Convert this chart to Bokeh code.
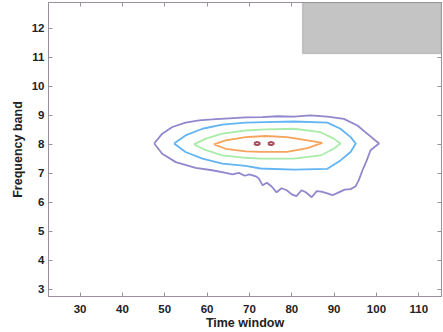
from bokeh.plotting import figure
from bokeh.models import Range1d, LinearAxis, SingleIntervalTicker, BoxAnnotation, CustomJSTickFormatter
from bokeh.embed import file_html
from bokeh.resources import INLINE

# x ticks / y ticks
x_tick_step = 10
y_tick_step = 1

# contour levels (outer -> inner), each a closed polyline in (time window, frequency band)
level1_x = [47.5, 49.4, 51.8, 54.9, 58.1, 61.2, 65.2, 69.1, 73.0, 76.6, 80.5, 84.4, 88.4,
            92.3, 95.5, 97.8, 100.6, 98.6, 97.7, 96.7, 95.8, 95.1, 93.9, 92.5, 91.1, 89.6,
            88.2, 87.0, 85.9, 84.7, 83.3, 82.3, 81.1, 80.0, 78.8, 77.6, 76.4, 75.2, 74.1,
            73.1, 72.2, 71.5, 70.0, 68.9, 67.5, 66.0, 64.4, 61.2, 57.3, 52.6, 49.4, 47.5]
level1_y = [8.02, 8.36, 8.59, 8.74, 8.82, 8.85, 8.89, 8.92, 8.93, 8.96, 8.95, 8.99, 8.95,
            8.87, 8.64, 8.36, 8.02, 7.79, 7.44, 7.10, 6.75, 6.55, 6.45, 6.43, 6.34, 6.24,
            6.31, 6.36, 6.38, 6.17, 6.34, 6.41, 6.21, 6.27, 6.41, 6.48, 6.34, 6.55, 6.67,
            6.58, 6.82, 6.89, 6.96, 6.91, 7.01, 6.96, 7.01, 7.10, 7.18, 7.38, 7.67, 8.02]

level2_x = [52.2, 54.9, 58.9, 63.6, 69.1, 73.8, 80.5, 88.4, 91.5, 93.9, 95.1,
            93.9, 91.5, 88.4, 80.5, 72.6, 69.1, 63.6, 58.9, 54.9, 52.2]
level2_y = [8.02, 8.30, 8.53, 8.67, 8.74, 8.76, 8.78, 8.74, 8.53, 8.24, 8.02,
            7.73, 7.44, 7.15, 7.12, 7.16, 7.25, 7.33, 7.50, 7.73, 8.02]

level3_x = [56.9, 59.7, 63.6, 69.1, 73.8, 80.5, 86.8, 89.9, 91.5,
            89.9, 86.8, 80.5, 72.6, 69.1, 63.6, 59.7, 56.9]
level3_y = [7.99, 8.19, 8.36, 8.47, 8.51, 8.53, 8.41, 8.19, 8.02,
            7.84, 7.61, 7.50, 7.50, 7.53, 7.61, 7.79, 7.99]

level4_x = [61.6, 64.4, 69.1, 73.8, 78.9, 83.7, 87.2, 83.7, 78.9, 72.6, 69.1, 64.4, 61.6]
level4_y = [7.99, 8.13, 8.24, 8.28, 8.24, 8.13, 8.04, 7.86, 7.73, 7.73, 7.75, 7.84, 7.99]

level5a_x = [71.1, 71.4, 71.8, 72.2, 72.5, 72.2, 71.8, 71.4, 71.1]
level5a_y = [8.02, 8.06, 8.07, 8.06, 8.02, 7.98, 7.97, 7.98, 8.02]
level5b_x = [74.4, 74.7, 75.1, 75.5, 75.8, 75.5, 75.1, 74.7, 74.4]
level5b_y = [8.02, 8.06, 8.07, 8.06, 8.02, 7.98, 7.97, 7.98, 8.02]

frame_col = "#9a8f9c"
text_col = "#222222"

p = figure(width=443, height=332, output_backend="svg", toolbar_location=None,
           x_range=Range1d(22.54, 115.36), y_range=Range1d(2.75, 12.88),
           min_border_left=48, min_border_right=2, min_border_top=2, min_border_bottom=35)
p.xgrid.visible = False
p.ygrid.visible = False
p.outline_line_color = frame_col
p.background_fill_color = "white"

bottom = p.below[0]
left = p.left[0]

p.line(level1_x, level1_y, line_color="#9088cc", line_width=1.8)
p.line(level2_x, level2_y, line_color="#62b4f2", line_width=1.8)
p.line(level3_x, level3_y, line_color="#a9eca9", line_width=1.8)
p.line(level4_x, level4_y, line_color="#f6a35c", line_width=1.8)
p.line(level5a_x, level5a_y, line_color="#a6505e", line_width=2)
p.line(level5b_x, level5b_y, line_color="#a6505e", line_width=2)

xt = SingleIntervalTicker(interval=x_tick_step, num_minor_ticks=0)
yt = SingleIntervalTicker(interval=y_tick_step, num_minor_ticks=0)

bottom.ticker = xt
bottom.axis_label = "Time window"
left.ticker = yt
left.axis_label = "Frequency band"

blank = CustomJSTickFormatter(code="return '';")
top = LinearAxis(ticker=xt, formatter=blank, major_label_standoff=0)
right = LinearAxis(ticker=yt, formatter=blank, major_label_standoff=0)
p.add_layout(top, "above")
p.add_layout(right, "right")

for ax in [bottom, left, top, right]:
    ax.axis_line_color = frame_col
    ax.major_tick_line_color = frame_col
    ax.minor_tick_line_color = None
    ax.major_tick_in = 4
    ax.major_tick_out = 0

for ax in [bottom, left]:
    ax.major_label_text_font = "Liberation Sans"
    ax.major_label_text_font_style = "bold"
    ax.major_label_text_color = text_col
    ax.major_label_text_font_size = "11.5px"
    ax.axis_label_text_font = "Liberation Sans"
    ax.axis_label_text_font_style = "bold"
    ax.axis_label_text_color = text_col
    ax.axis_label_text_font_size = "12.5px"

bottom.major_label_standoff = 8
bottom.axis_label_standoff = 0
left.major_label_standoff = 4
left.axis_label_standoff = 4

box = BoxAnnotation(left=82.55, bottom=11.12, fill_color="#c4c4c4", fill_alpha=1,
                    line_color="#7a7a7a", line_width=1.5)
p.add_layout(box)

open("out.html", "w").write(file_html(p, INLINE))
